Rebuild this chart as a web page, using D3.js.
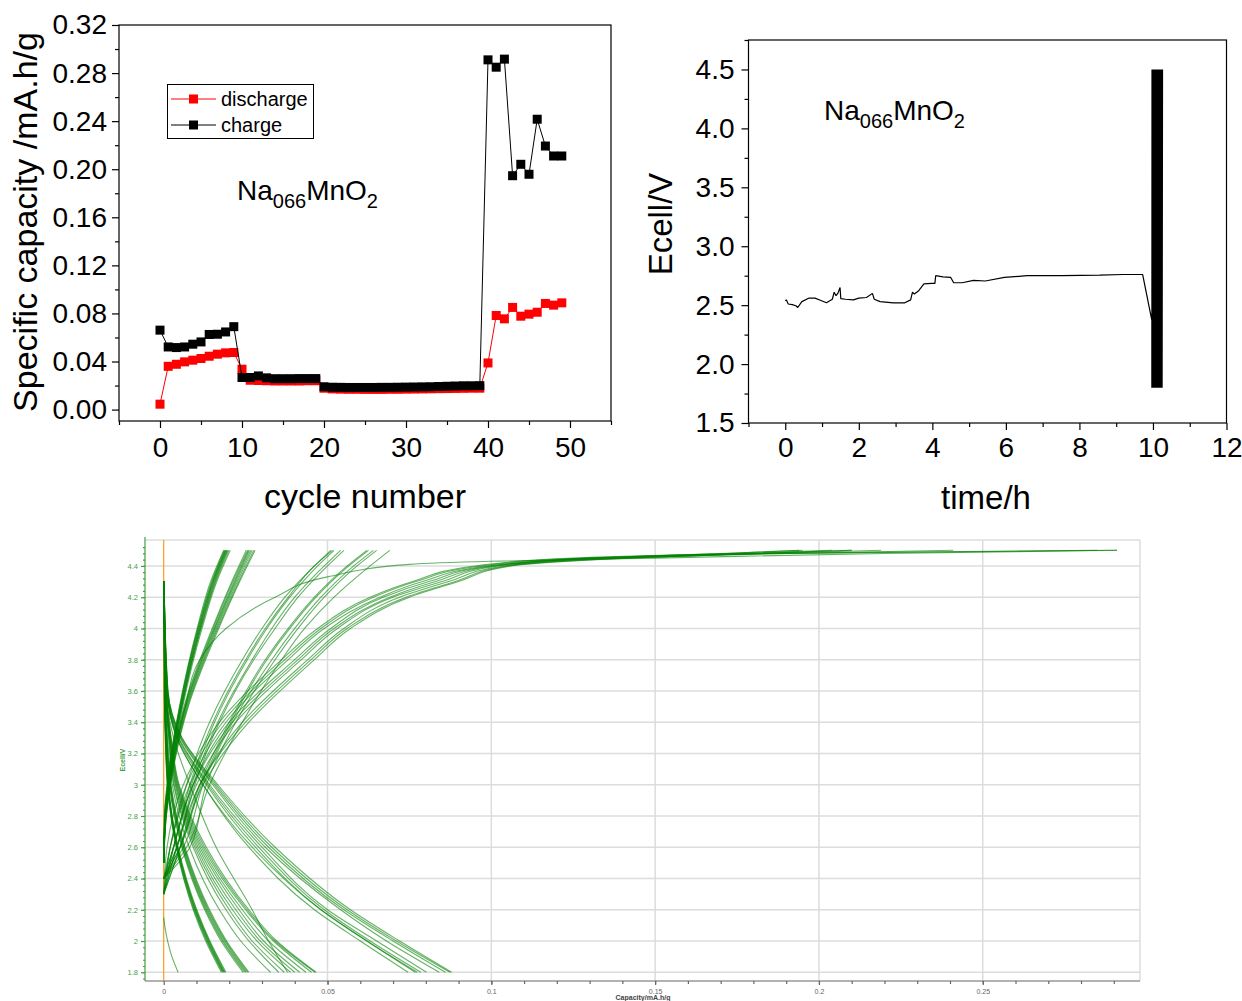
<!DOCTYPE html>
<html>
<head>
<meta charset="utf-8">
<script src="https://cdnjs.cloudflare.com/ajax/libs/d3/7.8.5/d3.min.js"></script>
<style>
  body { margin: 0; background: #fff; }
  svg { display: block; }
  text { font-family: "Liberation Sans", Arial, sans-serif; }
</style>
</head>
<body>
<svg id="canvas" width="1242" height="1001"></svg>
<script>
// ---------- data: capacity per cycle ----------
let cycleNumber = d3.range(0, 50)
let chargeCap = [
  0.0661, 0.0521, 0.0516, 0.0521, 0.0544, 0.0563, 0.0625, 0.0627, 0.0646, 0.0690,
  0.0267, 0.0267, 0.0280, 0.0264, 0.0257, 0.0257, 0.0257, 0.0258, 0.0258, 0.0258,
  0.0190, 0.0186, 0.0185, 0.0184, 0.0184, 0.0184, 0.0184, 0.0185, 0.0185, 0.0186,
  0.0187, 0.0188, 0.0189, 0.0190, 0.0192, 0.0194, 0.0196, 0.0198, 0.0198, 0.0199,
  0.2910, 0.2849, 0.2916, 0.1946, 0.2041, 0.1958, 0.2416, 0.2193, 0.2110, 0.2110
]
let dischargeCap = [
  0.0045, 0.0360, 0.0377, 0.0397, 0.0411, 0.0425, 0.0444, 0.0461, 0.0472, 0.0475,
  0.0336, 0.0244, 0.0242, 0.0240, 0.0238, 0.0238, 0.0238, 0.0238, 0.0240, 0.0240,
  0.0178, 0.0172, 0.0170, 0.0169, 0.0169, 0.0168, 0.0168, 0.0168, 0.0169, 0.0169,
  0.0170, 0.0171, 0.0172, 0.0173, 0.0174, 0.0175, 0.0176, 0.0177, 0.0178, 0.0178,
  0.0388, 0.0783, 0.0755, 0.0850, 0.0777, 0.0794, 0.0810, 0.0883, 0.0869, 0.0888
]

// ---------- data: cell voltage vs time ----------
let timeH = [0, 0.03, 0.08, 0.19, 0.29, 0.34, 0.45, 0.65, 0.81, 0.97,
  1.12, 1.28, 1.33, 1.38, 1.43, 1.49, 1.51, 1.64, 1.85, 2.0,
  2.21, 2.37, 2.42, 2.58, 2.94, 3.25, 3.41, 3.46, 3.51, 3.62,
  3.77, 3.98, 4.07, 4.09, 4.29, 4.5, 4.58, 4.81, 5.12, 5.44,
  5.96, 6.58, 7.52, 8.55, 9.18, 9.72, 9.97]
let ecellV = [2.537, 2.545, 2.51, 2.505, 2.495, 2.48, 2.53, 2.56, 2.56, 2.54,
  2.52, 2.55, 2.61, 2.58, 2.6, 2.65, 2.555, 2.55, 2.545, 2.56,
  2.565, 2.6, 2.55, 2.53, 2.52, 2.52, 2.545, 2.61, 2.595, 2.62,
  2.68, 2.685, 2.685, 2.75, 2.74, 2.735, 2.69, 2.69, 2.71, 2.705,
  2.735, 2.75, 2.75, 2.755, 2.76, 2.76, 2.37]
// galvanostatic cycling window (h) and voltage limits
let cyclingStart = 9.97
let cyclingEnd = 10.26
let vMax = 4.5
let vMin = 1.8

// ---------- data: voltage profiles (capacity at each voltage level) ----------
let chargeLevelsAB = [2.8, 3.1, 3.5, 4.0, 4.3, 4.5]
let chargeCurvesA = [ // cycles 20-39
  [0.0002, 0.0016, 0.0048, 0.0102, 0.0143, 0.0183],
  [0.0003, 0.0017, 0.0049, 0.0104, 0.0146, 0.0185],
  [0.0003, 0.0018, 0.0050, 0.0105, 0.0148, 0.0187],
  [0.0004, 0.0018, 0.0051, 0.0107, 0.0150, 0.0189],
  [0.0004, 0.0019, 0.0052, 0.0108, 0.0151, 0.0190],
  [0.0005, 0.0020, 0.0053, 0.0110, 0.0153, 0.0192],
  [0.0005, 0.0020, 0.0054, 0.0111, 0.0155, 0.0194],
  [0.0006, 0.0021, 0.0055, 0.0113, 0.0157, 0.0196],
  [0.0006, 0.0022, 0.0056, 0.0114, 0.0159, 0.0199],
  [0.0007, 0.0023, 0.0058, 0.0117, 0.0162, 0.0203]
]
let chargeCurvesB = [ // cycles 10-19
  [0.0004, 0.0022, 0.0062, 0.0148, 0.0208, 0.0252],
  [0.0005, 0.0023, 0.0064, 0.0151, 0.0211, 0.0256],
  [0.0005, 0.0024, 0.0066, 0.0154, 0.0215, 0.0259],
  [0.0006, 0.0025, 0.0067, 0.0156, 0.0218, 0.0262],
  [0.0006, 0.0026, 0.0069, 0.0159, 0.0221, 0.0266],
  [0.0007, 0.0027, 0.0071, 0.0162, 0.0225, 0.0270],
  [0.0008, 0.0028, 0.0073, 0.0165, 0.0229, 0.0275],
  [0.0008, 0.0029, 0.0075, 0.0168, 0.0232, 0.0279]
]
let chargeLevelsC = [2.6, 3.0, 3.4, 3.8, 4.0, 4.2, 4.4, 4.5]
let chargeCurvesC = [ // cycles 0-9
  [0.0020, 0.0070, 0.0140, 0.0240, 0.0300, 0.0370, 0.0460, 0.0510],
  [0.0030, 0.0080, 0.0150, 0.0250, 0.0310, 0.0380, 0.0460, 0.0515],
  [0.0030, 0.0085, 0.0155, 0.0255, 0.0315, 0.0385, 0.0470, 0.0520],
  [0.0040, 0.0090, 0.0165, 0.0270, 0.0330, 0.0400, 0.0490, 0.0540],
  [0.0040, 0.0095, 0.0170, 0.0275, 0.0340, 0.0410, 0.0500, 0.0550],
  [0.0050, 0.0110, 0.0200, 0.0310, 0.0380, 0.0460, 0.0560, 0.0620],
  [0.0050, 0.0115, 0.0205, 0.0315, 0.0385, 0.0465, 0.0565, 0.0625],
  [0.0060, 0.0120, 0.0210, 0.0330, 0.0400, 0.0480, 0.0580, 0.0640],
  [0.0070, 0.0140, 0.0240, 0.0360, 0.0430, 0.0520, 0.0630, 0.0690],
  [0.0080, 0.0130, 0.0220, 0.0340, 0.0410, 0.0490, 0.0590, 0.0650]
]
let chargeLevelsD = [2.6, 3.0, 3.4, 3.8, 4.0, 4.2, 4.3, 4.4, 4.45, 4.48, 4.5]
let chargeCurvesD = [ // cycles 41-49
  [0.001, 0.006, 0.017, 0.036, 0.047, 0.063, 0.076, 0.095, 0.125, 0.180, 0.285],
  [0.002, 0.007, 0.018, 0.037, 0.048, 0.064, 0.077, 0.097, 0.128, 0.190, 0.291],
  [0.002, 0.008, 0.019, 0.038, 0.049, 0.066, 0.079, 0.099, 0.130, 0.170, 0.194],
  [0.003, 0.009, 0.020, 0.040, 0.051, 0.067, 0.081, 0.100, 0.132, 0.175, 0.204],
  [0.003, 0.009, 0.021, 0.041, 0.052, 0.069, 0.083, 0.101, 0.133, 0.172, 0.195],
  [0.004, 0.010, 0.022, 0.042, 0.053, 0.070, 0.085, 0.102, 0.135, 0.190, 0.241],
  [0.004, 0.011, 0.024, 0.044, 0.055, 0.072, 0.087, 0.104, 0.138, 0.185, 0.219],
  [0.005, 0.011, 0.025, 0.045, 0.056, 0.074, 0.089, 0.105, 0.140, 0.180, 0.210],
  [0.005, 0.012, 0.026, 0.046, 0.057, 0.075, 0.090, 0.106, 0.142, 0.182, 0.210]
]
let chargeLevelsX = [2.8, 3.1, 3.5, 3.8, 4.0, 4.2, 4.33, 4.41, 4.43, 4.45, 4.48, 4.5]
let chargeCurveX = [0.0006, 0.0024, 0.0066, 0.011, 0.019, 0.034, 0.05, 0.075, 0.1, 0.15, 0.22, 0.291] // cycle 40
// voltage right after the current is switched on (capacity 0)
let chargeStartAB = 2.5
let chargeStartC = 2.4
let chargeStartD = 2.3

let dischargeLevels = [4.3, 3.6, 3.3, 3.0, 2.6, 2.2, 2.0, 1.8]
let dischargeCurvesA = [ // cycles 20-39
  [0.0001, 0.0002, 0.0005, 0.0011, 0.0038, 0.0090, 0.0128, 0.0176],
  [0.0001, 0.0002, 0.0005, 0.0012, 0.0039, 0.0092, 0.0131, 0.0179],
  [0.0001, 0.0002, 0.0006, 0.0012, 0.0040, 0.0094, 0.0133, 0.0181],
  [0.0001, 0.0003, 0.0006, 0.0013, 0.0041, 0.0096, 0.0135, 0.0183],
  [0.0001, 0.0003, 0.0006, 0.0013, 0.0042, 0.0097, 0.0137, 0.0185],
  [0.0001, 0.0003, 0.0007, 0.0014, 0.0043, 0.0099, 0.0139, 0.0187],
  [0.0001, 0.0003, 0.0007, 0.0014, 0.0044, 0.0101, 0.0141, 0.0190]
]
let dischargeCurvesB = [ // cycles 10-19
  [0.0001, 0.0003, 0.0008, 0.0017, 0.0055, 0.0125, 0.0175, 0.0242],
  [0.0001, 0.0003, 0.0008, 0.0018, 0.0057, 0.0128, 0.0179, 0.0246],
  [0.0001, 0.0003, 0.0009, 0.0019, 0.0059, 0.0131, 0.0182, 0.0250],
  [0.0001, 0.0004, 0.0009, 0.0020, 0.0061, 0.0134, 0.0186, 0.0253],
  [0.0001, 0.0004, 0.0010, 0.0021, 0.0063, 0.0137, 0.0189, 0.0257],
  [0.0001, 0.0004, 0.0010, 0.0022, 0.0065, 0.0140, 0.0192, 0.0260],
  [0.0001, 0.0005, 0.0012, 0.0026, 0.0078, 0.0170, 0.0235, 0.0326]
]
let dischargeCurvesC = [ // cycles 1-9 and 40
  [0.0001, 0.0005, 0.0015, 0.0030, 0.0090, 0.0190, 0.0260, 0.0351],
  [0.0001, 0.0005, 0.0016, 0.0032, 0.0095, 0.0200, 0.0270, 0.0368],
  [0.0001, 0.0006, 0.0017, 0.0035, 0.0100, 0.0210, 0.0285, 0.0387],
  [0.0001, 0.0006, 0.0018, 0.0037, 0.0105, 0.0220, 0.0295, 0.0400],
  [0.0001, 0.0006, 0.0019, 0.0039, 0.0110, 0.0230, 0.0305, 0.0415],
  [0.0001, 0.0007, 0.0020, 0.0041, 0.0115, 0.0240, 0.0320, 0.0434],
  [0.0001, 0.0007, 0.0021, 0.0043, 0.0120, 0.0250, 0.0335, 0.0451],
  [0.0001, 0.0007, 0.0022, 0.0045, 0.0125, 0.0255, 0.0340, 0.0462],
  [0.0001, 0.0008, 0.0023, 0.0047, 0.0130, 0.0260, 0.0345, 0.0465],
  [0.0001, 0.0008, 0.0030, 0.0080, 0.0160, 0.0270, 0.0320, 0.0378]
]
let dischargeCurvesD = [ // cycles 41-49
  [0.0001, 0.0010, 0.0040, 0.0120, 0.0270, 0.0480, 0.0620, 0.0774],
  [0.0001, 0.0010, 0.0040, 0.0120, 0.0260, 0.0460, 0.0600, 0.0746],
  [0.0001, 0.0012, 0.0050, 0.0150, 0.0310, 0.0540, 0.0680, 0.0841],
  [0.0001, 0.0010, 0.0042, 0.0130, 0.0280, 0.0480, 0.0620, 0.0768],
  [0.0001, 0.0011, 0.0045, 0.0135, 0.0290, 0.0490, 0.0630, 0.0785],
  [0.0001, 0.0011, 0.0046, 0.0140, 0.0300, 0.0500, 0.0650, 0.0802],
  [0.0001, 0.0013, 0.0055, 0.0160, 0.0330, 0.0560, 0.0710, 0.0874],
  [0.0001, 0.0012, 0.0052, 0.0155, 0.0320, 0.0550, 0.0700, 0.0860],
  [0.0001, 0.0013, 0.0056, 0.0165, 0.0340, 0.0570, 0.0720, 0.0879]
]
let firstDischargeLevels = [2.15, 2.1, 2.0, 1.9, 1.8]
let firstDischargeCurve = [0, 0.0003, 0.0012, 0.0025, 0.0044] // cycle 0

// ---------- tick values ----------
let capTicks = [0, 0.04, 0.08, 0.12, 0.16, 0.2, 0.24, 0.28, 0.32]
let cycleTicks = [0, 10, 20, 30, 40, 50]
let timeTicks = [0, 2, 4, 6, 8, 10, 12]
let voltTicks = [1.5, 2.0, 2.5, 3.0, 3.5, 4.0, 4.5]
let profileVoltTicks = [1.8, 2, 2.2, 2.4, 2.6, 2.8, 3, 3.2, 3.4, 3.6, 3.8, 4, 4.2, 4.4]
let profileCapTicks = [0, 0.05, 0.1, 0.15, 0.2, 0.25]

let canvas = d3.select('#canvas')

let styleAxis = (g, fontSize, color) => {
    g.select('.domain').remove()
    g.selectAll('line').attr('stroke', color).attr('stroke-width', 1.2)
    g.selectAll('text').attr('font-size', fontSize).attr('fill', color)
        .attr('font-family', '"Liberation Sans", Arial, sans-serif')
}

let formula = (g, x, y, big, small) => {
    let t = g.append('text').attr('x', x).attr('y', y).attr('fill', '#000')
    t.append('tspan').attr('font-size', big).text('Na')
    t.append('tspan').attr('font-size', small).attr('dy', 8).text('066')
    t.append('tspan').attr('font-size', big).attr('dy', -8).text('MnO')
    t.append('tspan').attr('font-size', small).attr('dy', 8).text('2')
}

// ================= chart 1: capacity vs cycle =================
let drawCapacity = () => {
    let g = canvas.append('g')
    let x = d3.scaleLinear().domain([-5, 55]).range([119, 611])
    let y = d3.scaleLinear().domain([-0.0095, 0.32]).range([421, 25])

    g.append('rect').attr('x', 119).attr('y', 25).attr('width', 492).attr('height', 396)
        .attr('fill', 'none').attr('stroke', '#000').attr('stroke-width', 1.2)

    g.append('g').attr('transform', 'translate(119,0)')
        .call(d3.axisLeft(y).tickValues(capTicks).tickSize(7).tickPadding(5).tickFormat(d3.format('.2f')))
        .call(a => styleAxis(a, 28, '#000'))
    g.append('g').attr('transform', 'translate(119,0)')
        .call(d3.axisLeft(y).tickValues(d3.range(0.02, 0.32, 0.04)).tickSize(4).tickFormat(''))
        .call(a => styleAxis(a, 28, '#000'))
    g.append('g').attr('transform', 'translate(0,421)')
        .call(d3.axisBottom(x).tickValues(cycleTicks).tickSize(7).tickPadding(9))
        .call(a => styleAxis(a, 28, '#000'))
    g.append('g').attr('transform', 'translate(0,421)')
        .call(d3.axisBottom(x).tickValues([-5, 5, 15, 25, 35, 45, 55]).tickSize(4).tickFormat(''))
        .call(a => styleAxis(a, 28, '#000'))

    g.append('text').attr('x', 365).attr('y', 508).attr('text-anchor', 'middle')
        .attr('font-size', 34).text('cycle number')
    g.append('text').attr('transform', 'translate(37,222) rotate(-90)').attr('text-anchor', 'middle')
        .attr('font-size', 34).text('Specific capacity /mA.h/g')

    let series = [
        { name: 'discharge', values: dischargeCap, color: '#ff0000' },
        { name: 'charge', values: chargeCap, color: '#000000' }
    ]
    series.forEach((s) => {
        let pts = cycleNumber.map((c, i) => [c, s.values[i]])
        g.append('path').datum(pts)
            .attr('fill', 'none').attr('stroke', s.color).attr('stroke-width', 1)
            .attr('d', d3.line().x(d => x(d[0])).y(d => y(d[1])))
        g.selectAll(null).data(pts).enter().append('rect')
            .attr('x', d => x(d[0]) - 4.5).attr('y', d => y(d[1]) - 4.5)
            .attr('width', 9).attr('height', 9).attr('fill', s.color)
    })

    // legend
    let lg = g.append('g')
    lg.append('rect').attr('x', 167.5).attr('y', 84.5).attr('width', 146).attr('height', 54)
        .attr('fill', '#fff').attr('stroke', '#000').attr('stroke-width', 1)
    series.forEach((s, i) => {
        let ly = 99 + i * 26
        lg.append('line').attr('x1', 171).attr('x2', 216).attr('y1', ly).attr('y2', ly)
            .attr('stroke', s.color).attr('stroke-width', 1)
        lg.append('rect').attr('x', 189).attr('y', ly - 4.5).attr('width', 9).attr('height', 9).attr('fill', s.color)
        lg.append('text').attr('x', 221).attr('y', ly + 7).attr('font-size', 20).text(s.name)
    })

    formula(g, 237, 200, 28, 20)
}

// ================= chart 2: Ecell vs time =================
let drawVoltage = () => {
    let g = canvas.append('g')
    let x = d3.scaleLinear().domain([-1, 12]).range([748.5, 1226.5])
    let y = d3.scaleLinear().domain([1.5, 4.75]).range([423, 40])

    g.append('rect').attr('x', 748.5).attr('y', 40).attr('width', 478).attr('height', 383)
        .attr('fill', 'none').attr('stroke', '#000').attr('stroke-width', 1.2)

    g.append('g').attr('transform', 'translate(748.5,0)')
        .call(d3.axisLeft(y).tickValues(voltTicks).tickSize(7).tickPadding(7).tickFormat(d3.format('.1f')))
        .call(a => styleAxis(a, 28, '#000'))
    g.append('g').attr('transform', 'translate(748.5,0)')
        .call(d3.axisLeft(y).tickValues([1.75, 2.25, 2.75, 3.25, 3.75, 4.25, 4.75]).tickSize(4).tickFormat(''))
        .call(a => styleAxis(a, 28, '#000'))
    g.append('g').attr('transform', 'translate(0,423)')
        .call(d3.axisBottom(x).tickValues(timeTicks).tickSize(7).tickPadding(7))
        .call(a => styleAxis(a, 28, '#000'))
    g.append('g').attr('transform', 'translate(0,423)')
        .call(d3.axisBottom(x).tickValues([-1, 1, 3, 5, 7, 9, 11]).tickSize(4).tickFormat(''))
        .call(a => styleAxis(a, 28, '#000'))

    g.append('text').attr('x', 986).attr('y', 509).attr('text-anchor', 'middle')
        .attr('font-size', 33).text('time/h')
    g.append('text').attr('transform', 'translate(672,224) rotate(-90)').attr('text-anchor', 'middle')
        .attr('font-size', 33).text('Ecell/V')

    // rest period followed by the galvanostatic cycling
    let pts = timeH.map((t, i) => [t, ecellV[i]])
    let total = d3.sum(chargeCap) + d3.sum(dischargeCap)
    let span = cyclingEnd - cyclingStart
    let t = cyclingStart
    cycleNumber.forEach((c, i) => {
        t += dischargeCap[i] / total * span
        pts.push([t, vMin])
        t += chargeCap[i] / total * span
        pts.push([t, vMax])
    })
    g.append('path').datum(pts)
        .attr('fill', 'none').attr('stroke', '#000').attr('stroke-width', 1.2)
        .attr('stroke-linejoin', 'bevel')
        .attr('d', d3.line().x(d => x(d[0])).y(d => y(d[1])))

    formula(g, 824, 120, 28, 20)
}

// ================= chart 3: voltage profiles =================
let drawProfiles = () => {
    let g = canvas.append('g')
    let x = d3.scaleLinear().domain([-0.00571, 0.298]).range([145, 1140])
    let y = d3.scaleLinear().domain([1.746, 4.566]).range([980.7, 540])

    // grid
    g.selectAll(null).data(profileVoltTicks).enter().append('line')
        .attr('x1', 145).attr('x2', 1140).attr('y1', d => y(d)).attr('y2', d => y(d))
        .attr('stroke', '#dcdcdc').attr('stroke-width', 1.5)
    g.selectAll(null).data(profileCapTicks.slice(1)).enter().append('line')
        .attr('x1', d => x(d)).attr('x2', d => x(d)).attr('y1', 540).attr('y2', 980.7)
        .attr('stroke', '#dcdcdc').attr('stroke-width', 1.5)
    g.append('line').attr('x1', 145).attr('x2', 1140).attr('y1', 540).attr('y2', 540)
        .attr('stroke', '#dcdcdc').attr('stroke-width', 1.5)
    g.append('line').attr('x1', 1140).attr('x2', 1140).attr('y1', 540).attr('y2', 980.7)
        .attr('stroke', '#dcdcdc').attr('stroke-width', 1.5)

    // zero-capacity marker
    g.append('line').attr('x1', x(0)).attr('x2', x(0)).attr('y1', 540).attr('y2', 980.7)
        .attr('stroke', '#ff9a1a').attr('stroke-width', 1.2)

    let line = d3.line().curve(d3.curveMonotoneY).x(d => x(d[0])).y(d => y(d[1]))
    let drawSet = (levels, curves, startV) => {
        curves.forEach((q) => {
            let pts = q.map((v, i) => [v, levels[i]])
            if (startV !== undefined) pts.unshift([0, startV])
            g.append('path').datum(pts)
                .attr('fill', 'none').attr('stroke', '#008000').attr('stroke-width', 1.1)
                .attr('stroke-opacity', 0.6).attr('d', line)
        })
    }
    drawSet(chargeLevelsAB, chargeCurvesA, chargeStartAB)
    drawSet(chargeLevelsAB, chargeCurvesB, chargeStartAB)
    drawSet(chargeLevelsC, chargeCurvesC, chargeStartC)
    drawSet(chargeLevelsD, chargeCurvesD, chargeStartD)
    drawSet(chargeLevelsX, [chargeCurveX], chargeStartAB)
    drawSet(dischargeLevels, dischargeCurvesA)
    drawSet(dischargeLevels, dischargeCurvesB)
    drawSet(dischargeLevels, dischargeCurvesC)
    drawSet(dischargeLevels, dischargeCurvesD)
    drawSet(firstDischargeLevels, [firstDischargeCurve])

    // y axis (green)
    let green = '#3f9f3f'
    g.append('g').attr('transform', 'translate(145,0)')
        .call(d3.axisLeft(y).tickValues(profileVoltTicks).tickSize(4).tickPadding(3).tickFormat(d3.format('')))
        .call(a => styleAxis(a, 7.5, green))
    g.append('g').attr('transform', 'translate(145,0)')
        .call(d3.axisLeft(y).tickValues(d3.range(1.76, 4.56, 0.04)).tickSize(2).tickFormat(''))
        .call(a => styleAxis(a, 7.5, green))
    g.append('line').attr('x1', 145).attr('x2', 145).attr('y1', 537).attr('y2', 981)
        .attr('stroke', green).attr('stroke-width', 1.2)

    // x axis (grey)
    let grey = '#666'
    g.append('g').attr('transform', 'translate(0,981)')
        .call(d3.axisBottom(x).tickValues(profileCapTicks).tickSize(4).tickPadding(4).tickFormat(d3.format('')))
        .call(a => styleAxis(a, 7, grey))
    g.append('g').attr('transform', 'translate(0,981)')
        .call(d3.axisBottom(x).tickValues(d3.range(0.01, 0.3, 0.01)).tickSize(3).tickFormat(''))
        .call(a => styleAxis(a, 7, grey))
    g.append('line').attr('x1', 145).attr('x2', 1140).attr('y1', 981).attr('y2', 981)
        .attr('stroke', grey).attr('stroke-width', 1.2)

    g.append('text').attr('transform', 'translate(125,760) rotate(-90)').attr('text-anchor', 'middle')
        .attr('font-size', 7).attr('font-weight', 'bold').attr('fill', green).text('Ecell/V')
    g.append('text').attr('x', 643).attr('y', 1000).attr('text-anchor', 'middle')
        .attr('font-size', 7).attr('font-weight', 'bold').attr('fill', '#444').text('Capacity/mA.h/g')
}

drawCapacity()
drawVoltage()
drawProfiles()
</script>
</body>
</html>
